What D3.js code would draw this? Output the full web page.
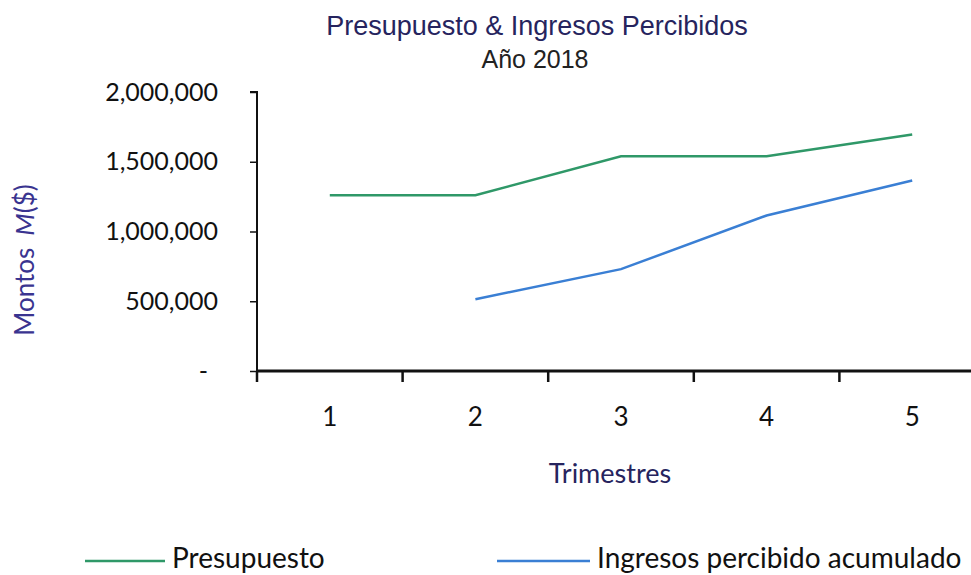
<!DOCTYPE html>
<html><head><meta charset="utf-8">
<script src="https://cdn.jsdelivr.net/npm/d3@7"></script>
<style>body{margin:0;background:#fff;} svg{display:block;}</style>
</head><body>
<svg id="c" width="971" height="575"></svg>
<script>
const categories = ["1","2","3","4","5"];
const presupuesto = [1260000, 1260000, 1540000, 1540000, 1695000];
const ingresos = [null, 515000, 730000, 1115000, 1365000];
const yTicks = [0, 500000, 1000000, 1500000, 2000000];
const seriesNames = ["Presupuesto", "Ingresos percibido acumulado"];
const colors = ["#2f9868", "#3a7fd4"];

const svg = d3.select("#c");
const font = "Lato, 'Noto Sans', sans-serif";
const tfont = "'Liberation Sans', Arial, sans-serif";
const x = d3.scaleBand().domain(categories).range([257, 985]);
const y = d3.scaleLinear().domain([0, 2000000]).range([371, 92]);

// title
svg.append("text").attr("x", 537).attr("y", 35).attr("text-anchor","middle")
  .attr("font-family",tfont).attr("font-size",27).attr("fill","#26245e")
  .text("Presupuesto & Ingresos Percibidos");
svg.append("text").attr("x", 535).attr("y", 68).attr("text-anchor","middle")
  .attr("font-family",tfont).attr("font-size",25).attr("fill","#222")
  .text("Año 2018");

// y axis
const fmt = d3.format(",");
const yAxis = svg.append("g").attr("transform","translate(257,0)")
  .call(d3.axisLeft(y).tickValues(yTicks).tickSize(7).tickPadding(32)
    .tickFormat(d => d === 0 ? "-" : fmt(d)));
yAxis.select(".domain").attr("stroke","#111").attr("stroke-width",2).attr("d","M-7,92H0V371");
yAxis.selectAll(".tick line").attr("stroke","#111").attr("stroke-width",1.5);
yAxis.selectAll(".tick text").attr("font-family",font).attr("font-size",25).attr("fill","#111");
yAxis.selectAll(".tick").filter(d => d === 0).select("text").attr("dx", -10);

// x axis
const xAxis = svg.append("g").attr("transform","translate(0,371)")
  .call(d3.axisBottom(x).tickSize(0).tickPadding(37));
xAxis.select(".domain").attr("stroke","#111").attr("stroke-width",3).attr("d","M257,0H985");
xAxis.selectAll(".tick text").attr("font-family",font).attr("font-size",26).attr("fill","#111");
// boundary ticks
const bounds = categories.map(c => x(c));
svg.append("g").selectAll("line").data(bounds).join("line")
  .attr("x1", d=>d).attr("x2", d=>d).attr("y1", 371).attr("y2", 382)
  .attr("stroke","#111").attr("stroke-width",2.5);

// axis titles
svg.append("text").attr("x", 610).attr("y", 483).attr("text-anchor","middle")
  .attr("font-family",font).attr("font-size",27).attr("fill","#26245e").text("Trimestres");
const yl = svg.append("text").attr("transform","translate(34,260) rotate(-90)").attr("text-anchor","middle")
  .attr("font-family",font).attr("font-size",26).attr("fill","#3a3490");
yl.append("tspan").text("Montos");
yl.append("tspan").attr("dx", 12).attr("font-style","italic").text("M");
yl.append("tspan").text("($)");

// lines
const line = d3.line().defined(d => d.v != null)
  .x(d => x(d.c) + x.bandwidth()/2).y(d => y(d.v));
[presupuesto, ingresos].forEach((s, i) => {
  svg.append("path").datum(categories.map((c, j) => ({c, v: s[j]})))
    .attr("d", line).attr("fill","none").attr("stroke", colors[i]).attr("stroke-width", 2.5);
});

// legend
const leg = [{x1:85, x2:165, tx:172}, {x1:497, x2:590, tx:597}];
leg.forEach((l, i) => {
  svg.append("line").attr("x1", l.x1).attr("x2", l.x2).attr("y1", 561).attr("y2", 561)
    .attr("stroke", colors[i]).attr("stroke-width", 2.5);
  svg.append("text").attr("x", l.tx).attr("y", 568).attr("font-family",font).attr("font-size",28)
    .attr("fill","#111").text(seriesNames[i]);
});
</script>
</body></html>
